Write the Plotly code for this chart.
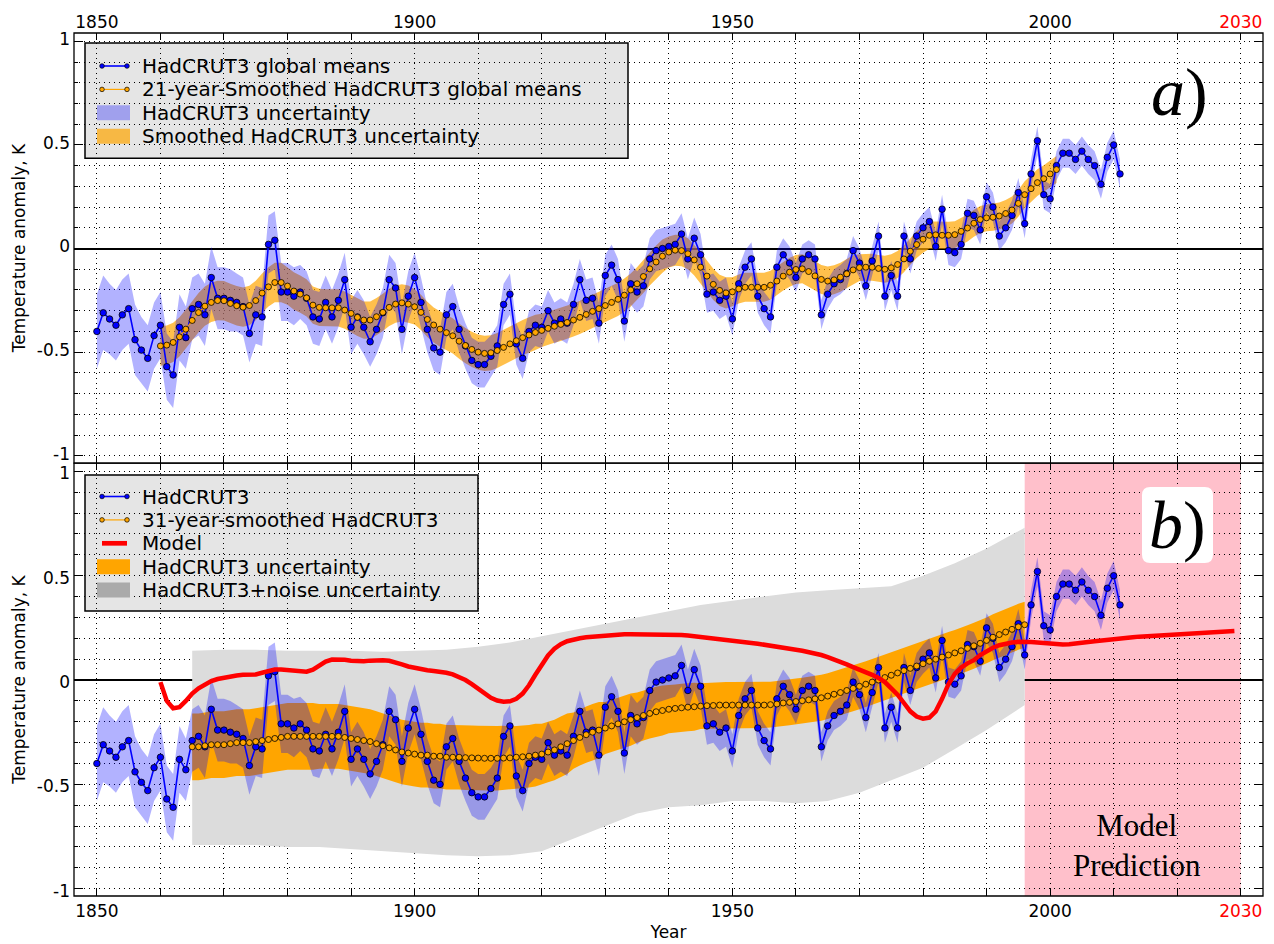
import numpy as np
import plotly.graph_objects as go
from plotly.subplots import make_subplots

# ---- data ----
years = list(range(1850, 2012))
hadcrut = [
    -0.40, -0.31, -0.34, -0.37, -0.32, -0.29, -0.44, -0.49, -0.53, -0.42,
    -0.37, -0.57, -0.61, -0.38, -0.43, -0.29, -0.27, -0.32, -0.14, -0.24,
    -0.24, -0.25, -0.26, -0.28, -0.41, -0.32, -0.33, 0.02, 0.04, -0.21,
    -0.21, -0.23, -0.21, -0.24, -0.33, -0.34, -0.26, -0.33, -0.25, -0.15,
    -0.38, -0.33, -0.38, -0.45, -0.39, -0.31, -0.15, -0.19, -0.39, -0.23,
    -0.14, -0.26, -0.39, -0.48, -0.50, -0.32, -0.28, -0.39, -0.47, -0.54,
    -0.56, -0.56, -0.52, -0.47, -0.27, -0.22, -0.46, -0.53, -0.40, -0.37,
    -0.38, -0.30, -0.36, -0.34, -0.36, -0.27, -0.15, -0.25, -0.24, -0.36,
    -0.13, -0.08, -0.15, -0.35, -0.17, -0.21, -0.18, -0.05, -0.01, 0.00,
    0.01, 0.02, 0.07, -0.05, 0.05, -0.03, -0.22, -0.21, -0.25, -0.23,
    -0.34, -0.17, -0.09, -0.05, -0.23, -0.29, -0.33, -0.09, -0.03, -0.07,
    -0.14, -0.05, -0.03, -0.05, -0.32, -0.22, -0.17, -0.15, -0.12, -0.01,
    -0.07, -0.18, -0.06, 0.06, -0.23, -0.13, -0.23, 0.06, -0.05, 0.06,
    0.10, 0.13, 0.01, 0.19, -0.01, -0.02, 0.02, 0.17, 0.16, 0.09,
    0.25, 0.20, 0.06, 0.10, 0.16, 0.27, 0.12, 0.36, 0.52, 0.26,
    0.24, 0.40, 0.46, 0.46, 0.43, 0.47, 0.43, 0.40, 0.31, 0.44,
    0.50, 0.36,
]
hadcrut_err = [
    0.18, 0.18, 0.17, 0.17, 0.17, 0.17, 0.17, 0.16, 0.16, 0.16,
    0.16, 0.16, 0.16, 0.16, 0.15, 0.15, 0.15, 0.15, 0.15, 0.15,
    0.15, 0.15, 0.14, 0.14, 0.14, 0.14, 0.14, 0.14, 0.14, 0.14,
    0.14, 0.14, 0.13, 0.13, 0.13, 0.13, 0.13, 0.13, 0.13, 0.13,
    0.13, 0.13, 0.13, 0.12, 0.12, 0.12, 0.12, 0.12, 0.12, 0.12,
    0.12, 0.12, 0.11, 0.11, 0.11, 0.11, 0.11, 0.11, 0.11, 0.11,
    0.11, 0.11, 0.10, 0.10, 0.10, 0.10, 0.10, 0.10, 0.10, 0.10,
    0.10, 0.10, 0.10, 0.10, 0.10, 0.10, 0.10, 0.10, 0.10, 0.10,
    0.10, 0.10, 0.10, 0.10, 0.10, 0.10, 0.10, 0.10, 0.10, 0.10,
    0.10, 0.10, 0.10, 0.10, 0.10, 0.10, 0.09, 0.09, 0.09, 0.09,
    0.08, 0.08, 0.08, 0.08, 0.08, 0.08, 0.08, 0.08, 0.08, 0.08,
    0.07, 0.07, 0.07, 0.07, 0.07, 0.07, 0.07, 0.07, 0.07, 0.07,
    0.07, 0.07, 0.07, 0.07, 0.07, 0.07, 0.07, 0.07, 0.07, 0.07,
    0.07, 0.07, 0.07, 0.07, 0.07, 0.07, 0.07, 0.07, 0.07, 0.07,
    0.07, 0.07, 0.07, 0.07, 0.07, 0.07, 0.07, 0.07, 0.07, 0.07,
    0.07, 0.07, 0.07, 0.07, 0.07, 0.07, 0.07, 0.07, 0.07, 0.07,
    0.07, 0.07,
]

smooth21_years = list(range(1860, 2002))
smooth21 = [
    -0.470, -0.466, -0.453, -0.426, -0.389, -0.347, -0.309, -0.278, -0.260, -0.251,
    -0.252, -0.265, -0.276, -0.283, -0.275, -0.251, -0.215, -0.185, -0.164, -0.164,
    -0.181, -0.205, -0.220, -0.238, -0.273, -0.284, -0.286, -0.286, -0.286, -0.297,
    -0.313, -0.332, -0.345, -0.345, -0.329, -0.308, -0.284, -0.268, -0.262, -0.268,
    -0.281, -0.308, -0.342, -0.369, -0.389, -0.406, -0.421, -0.447, -0.468, -0.487,
    -0.500, -0.506, -0.503, -0.492, -0.477, -0.460, -0.445, -0.430, -0.417, -0.405,
    -0.395, -0.385, -0.375, -0.366, -0.357, -0.345, -0.332, -0.318, -0.303, -0.290,
    -0.275, -0.260, -0.245, -0.225, -0.200, -0.170, -0.135, -0.098, -0.065, -0.037,
    -0.017, -0.008, -0.010, -0.025, -0.055, -0.090, -0.133, -0.173, -0.202, -0.214,
    -0.209, -0.195, -0.187, -0.187, -0.187, -0.187, -0.177, -0.157, -0.133, -0.114,
    -0.101, -0.098, -0.111, -0.132, -0.149, -0.157, -0.151, -0.138, -0.122, -0.103,
    -0.092, -0.090, -0.090, -0.096, -0.100, -0.093, -0.077, -0.050, -0.013, 0.019,
    0.045, 0.064, 0.066, 0.064, 0.064, 0.067, 0.083, 0.099, 0.122, 0.140,
    0.148, 0.151, 0.157, 0.169, 0.186, 0.218, 0.260, 0.289, 0.318, 0.337,
    0.360, 0.381,
]
smooth21_err = [
    0.095, 0.095, 0.095, 0.095, 0.095, 0.095, 0.095, 0.095, 0.095, 0.095,
    0.095, 0.095, 0.095, 0.095, 0.095, 0.095, 0.095, 0.095, 0.095, 0.095,
    0.09, 0.09, 0.09, 0.09, 0.09, 0.09, 0.09, 0.09, 0.09, 0.09,
    0.09, 0.09, 0.09, 0.09, 0.09, 0.09, 0.09, 0.09, 0.09, 0.09,
    0.085, 0.085, 0.085, 0.085, 0.085, 0.085, 0.085, 0.085, 0.085, 0.085,
    0.085, 0.085, 0.085, 0.085, 0.085, 0.085, 0.085, 0.085, 0.085, 0.085,
    0.08, 0.08, 0.08, 0.08, 0.08, 0.08, 0.08, 0.08, 0.08, 0.08,
    0.08, 0.08, 0.08, 0.08, 0.08, 0.08, 0.08, 0.08, 0.08, 0.08,
    0.075, 0.075, 0.075, 0.075, 0.075, 0.075, 0.075, 0.075, 0.075, 0.075,
    0.07, 0.07, 0.07, 0.07, 0.07, 0.07, 0.07, 0.07, 0.07, 0.07,
    0.07, 0.07, 0.07, 0.07, 0.07, 0.07, 0.07, 0.07, 0.07, 0.07,
    0.065, 0.065, 0.065, 0.065, 0.065, 0.065, 0.065, 0.065, 0.065, 0.065,
    0.065, 0.065, 0.065, 0.065, 0.065, 0.065, 0.065, 0.065, 0.065, 0.065,
    0.065, 0.065, 0.065, 0.065, 0.065, 0.065, 0.065, 0.065, 0.065, 0.065,
    0.065, 0.065,
]

smooth31_years = list(range(1865, 1997))
smooth31 = [
    -0.320, -0.320, -0.315, -0.310, -0.310, -0.310, -0.305, -0.300, -0.300, -0.300,
    -0.295, -0.290, -0.285, -0.280, -0.275, -0.270, -0.270, -0.270, -0.270, -0.270,
    -0.270, -0.270, -0.270, -0.270, -0.275, -0.280, -0.285, -0.290, -0.295, -0.305,
    -0.315, -0.325, -0.335, -0.345, -0.350, -0.355, -0.360, -0.360, -0.365, -0.365,
    -0.370, -0.370, -0.370, -0.372, -0.373, -0.374, -0.375, -0.375, -0.375, -0.374,
    -0.373, -0.370, -0.368, -0.365, -0.360, -0.355, -0.345, -0.335, -0.320, -0.305,
    -0.290, -0.275, -0.262, -0.250, -0.240, -0.230, -0.220, -0.210, -0.200, -0.190,
    -0.180, -0.170, -0.160, -0.152, -0.146, -0.140, -0.136, -0.133, -0.130, -0.128,
    -0.125, -0.123, -0.122, -0.120, -0.120, -0.120, -0.120, -0.120, -0.120, -0.120,
    -0.120, -0.118, -0.115, -0.110, -0.107, -0.103, -0.099, -0.095, -0.090, -0.085,
    -0.077, -0.068, -0.060, -0.050, -0.040, -0.030, -0.020, -0.010, 0.000, 0.012,
    0.023, 0.034, 0.045, 0.056, 0.067, 0.078, 0.090, 0.100, 0.110, 0.120,
    0.130, 0.140, 0.152, 0.164, 0.176, 0.190, 0.205, 0.218, 0.230, 0.243,
    0.255, 0.265,
]
smooth31_err = [
    0.16, 0.16, 0.16, 0.16, 0.16, 0.16, 0.16, 0.16, 0.16, 0.16,
    0.16, 0.16, 0.16, 0.16, 0.16, 0.16, 0.16, 0.16, 0.16, 0.16,
    0.155, 0.155, 0.155, 0.155, 0.155, 0.155, 0.155, 0.155, 0.155, 0.155,
    0.155, 0.155, 0.155, 0.155, 0.155, 0.155, 0.155, 0.155, 0.155, 0.155,
    0.155, 0.155, 0.155, 0.155, 0.155, 0.155, 0.155, 0.155, 0.155, 0.155,
    0.15, 0.15, 0.15, 0.15, 0.15, 0.145, 0.145, 0.145, 0.145, 0.145,
    0.135, 0.135, 0.135, 0.135, 0.135, 0.125, 0.125, 0.125, 0.125, 0.125,
    0.12, 0.12, 0.12, 0.12, 0.12, 0.115, 0.115, 0.115, 0.115, 0.115,
    0.11, 0.11, 0.11, 0.11, 0.11, 0.11, 0.11, 0.11, 0.11, 0.11,
    0.11, 0.11, 0.11, 0.11, 0.11, 0.11, 0.11, 0.11, 0.11, 0.11,
    0.11, 0.11, 0.11, 0.11, 0.11, 0.11, 0.11, 0.11, 0.11, 0.11,
    0.11, 0.11, 0.11, 0.11, 0.11, 0.11, 0.11, 0.11, 0.11, 0.11,
    0.11, 0.11, 0.11, 0.11, 0.11, 0.11, 0.11, 0.11, 0.11, 0.11,
    0.11, 0.11,
]

noise_years = [1865, 1870, 1875, 1880, 1885, 1890, 1895, 1900, 1905, 1910,
               1915, 1920, 1925, 1930, 1935, 1940, 1945, 1950, 1955, 1960,
               1965, 1970, 1975, 1980, 1985, 1990, 1995, 1996]
noise_upper = [0.14, 0.145, 0.145, 0.14, 0.14, 0.14, 0.135, 0.14, 0.145, 0.16,
               0.18, 0.21, 0.24, 0.27, 0.30, 0.33, 0.36, 0.38, 0.40, 0.42,
               0.43, 0.44, 0.45, 0.50, 0.56, 0.63, 0.71, 0.73]
noise_lower = [-0.79, -0.79, -0.79, -0.80, -0.80, -0.81, -0.82, -0.83, -0.84, -0.845,
               -0.84, -0.82, -0.76, -0.70, -0.64, -0.61, -0.60, -0.58, -0.58, -0.59,
               -0.58, -0.54, -0.48, -0.42, -0.33, -0.24, -0.14, -0.12]

model_years = list(range(1860, 2030))
model = [
    -0.010, -0.100, -0.135, -0.130, -0.100, -0.065, -0.040, -0.020, -0.005, 0.005,
    0.012, 0.018, 0.022, 0.025, 0.025, 0.027, 0.035, 0.045, 0.050, 0.050,
    0.048, 0.045, 0.040, 0.040, 0.050, 0.070, 0.088, 0.098, 0.100, 0.097,
    0.093, 0.090, 0.090, 0.093, 0.095, 0.095, 0.092, 0.085, 0.075, 0.065,
    0.058, 0.052, 0.047, 0.043, 0.040, 0.035, 0.027, 0.015, 0.000, -0.020,
    -0.042, -0.065, -0.085, -0.098, -0.104, -0.102, -0.090, -0.065, -0.025, 0.025,
    0.075, 0.118, 0.150, 0.172, 0.186, 0.195, 0.200, 0.205, 0.208, 0.211,
    0.214, 0.216, 0.218, 0.219, 0.220, 0.220, 0.221, 0.221, 0.220, 0.219,
    0.220, 0.218, 0.216, 0.213, 0.210, 0.207, 0.204, 0.200, 0.197, 0.194,
    0.190, 0.186, 0.182, 0.178, 0.174, 0.170, 0.165, 0.160, 0.155, 0.150,
    0.145, 0.140, 0.135, 0.128, 0.120, 0.110, 0.100, 0.090, 0.075, 0.062,
    0.050, 0.040, 0.025, 0.010, -0.010, -0.040, -0.070, -0.110, -0.150, -0.175,
    -0.185, -0.180, -0.150, -0.090, -0.020, 0.030, 0.060, 0.080, 0.095, 0.120,
    0.140, 0.155, 0.167, 0.175, 0.180, 0.183, 0.184, 0.182, 0.180, 0.177,
    0.174, 0.171, 0.170, 0.171, 0.173, 0.177, 0.182, 0.186, 0.190, 0.194,
    0.197, 0.200, 0.202, 0.205, 0.208, 0.210, 0.212, 0.213, 0.214, 0.215,
    0.217, 0.219, 0.222, 0.225, 0.228, 0.230, 0.232, 0.233, 0.234, 0.235,
]

x_ticks = list(range(1850, 2031, 10))
x_labels = {1850: "1850", 1900: "1900", 1950: "1950", 2000: "2000",
            2030: "<span style='color:red'>2030</span>"}
y_ticks = [-1, -0.5, 0, 0.5, 1]
y_labels = ["-1", "-0.5", "0", "0.5", "1"]

legend_a = ["HadCRUT3 global means", "21-year-Smoothed HadCRUT3 global means",
            "HadCRUT3 uncertainty", "Smoothed HadCRUT3 uncertainty"]
legend_b = ["HadCRUT3", "31-year-smoothed HadCRUT3", "Model",
            "HadCRUT3 uncertainty", "HadCRUT3+noise uncertainty"]

# ---- geometry: target positions in page pixels; the page body adds an 8px margin ----
BODY = 8
W, H = 1274 - BODY, 944 - BODY
PL, PR, PT, PB = 74, 1263, 33, 896          # plot area edges on the page
ML, MT = PL - BODY, PT - BODY
MR, MB = W - (PR - BODY), H - (PB - BODY)
X_RANGE = [1846.4, 2033.5]
Y_RANGE = [-1.035, 1.04]
SPLIT = 0.5017
split_px = PT + (PB - PT) * (1 - SPLIT)


def px2x(px):
    return X_RANGE[0] + (px - PL) / (PR - PL) * (X_RANGE[1] - X_RANGE[0])


def px2y(py, top):
    y0, y1 = (PT, split_px) if top else (split_px, PB)
    return Y_RANGE[1] - (py - y0) / (y1 - y0) * (Y_RANGE[1] - Y_RANGE[0])


def band(xs, centre, err):
    lo = [c - e for c, e in zip(centre, err)]
    hi = [c + e for c, e in zip(centre, err)]
    return list(xs) + list(xs)[::-1], hi + lo[::-1]


fig = make_subplots(rows=2, cols=1, vertical_spacing=0)

BLUE_BAND = "rgba(0,0,255,0.3)"
ORANGE_A = "rgba(255,165,0,0.7)"
FONT = "DejaVu Sans"

# ---------------- panel a ----------------
bx, by = band(smooth21_years, smooth21, smooth21_err)
fig.add_trace(go.Scatter(x=bx, y=by, fill="toself", fillcolor=ORANGE_A,
                         line=dict(width=0), mode="lines", hoverinfo="skip",
                         name=legend_a[3]), row=1, col=1)
bx, by = band(years, hadcrut, hadcrut_err)
fig.add_trace(go.Scatter(x=bx, y=by, fill="toself", fillcolor=BLUE_BAND,
                         line=dict(width=0), mode="lines", hoverinfo="skip",
                         name=legend_a[2]), row=1, col=1)
fig.add_trace(go.Scatter(x=years, y=hadcrut, mode="lines+markers",
                         line=dict(color="blue", width=1.6),
                         marker=dict(size=6.5, color="blue", line=dict(color="black", width=0.8)),
                         name=legend_a[0]), row=1, col=1)
fig.add_trace(go.Scatter(x=smooth21_years, y=smooth21, mode="lines+markers",
                         line=dict(color="orange", width=1.2),
                         marker=dict(size=6, color="orange", line=dict(color="black", width=0.8)),
                         name=legend_a[1]), row=1, col=1)

# ---------------- panel b ----------------
gx = noise_years + noise_years[::-1]
gy = noise_upper + noise_lower[::-1]
fig.add_trace(go.Scatter(x=gx, y=gy, fill="toself", fillcolor="#dcdcdc",
                         line=dict(width=0), mode="lines", hoverinfo="skip",
                         name=legend_b[4]), row=2, col=1)
bx, by = band(smooth31_years, smooth31, smooth31_err)
fig.add_trace(go.Scatter(x=bx, y=by, fill="toself", fillcolor="#ffa500",
                         line=dict(width=0), mode="lines", hoverinfo="skip",
                         name=legend_b[3]), row=2, col=1)
bx, by = band(years, hadcrut, hadcrut_err)
fig.add_trace(go.Scatter(x=bx, y=by, fill="toself", fillcolor=BLUE_BAND,
                         line=dict(width=0), mode="lines", hoverinfo="skip",
                         name="HadCRUT3 uncertainty (annual)"), row=2, col=1)
fig.add_trace(go.Scatter(x=years, y=hadcrut, mode="lines+markers",
                         line=dict(color="blue", width=1.6),
                         marker=dict(size=6.5, color="blue", line=dict(color="black", width=0.8)),
                         name=legend_b[0]), row=2, col=1)
fig.add_trace(go.Scatter(x=smooth31_years, y=smooth31, mode="lines+markers",
                         line=dict(color="orange", width=1.2),
                         marker=dict(size=6, color="orange", line=dict(color="black", width=0.8)),
                         name=legend_b[1]), row=2, col=1)
fig.add_trace(go.Scatter(x=model_years, y=model, mode="lines",
                         line=dict(color="red", width=4.5), name=legend_b[2]), row=2, col=1)
fig.update_traces(showlegend=False)

# ---------------- axes ----------------
xcommon = dict(range=X_RANGE, tickmode="array", tickvals=x_ticks,
               ticktext=[x_labels.get(v, "") for v in x_ticks],
               ticks="inside", ticklen=7, tickcolor="black", tickwidth=1,
               showline=False, mirror="ticks",
               showgrid=True, gridcolor="black", gridwidth=1, griddash="1px,4px",
               zeroline=False, automargin=False,
               tickfont=dict(size=17, family=FONT, color="black"))
fig.update_xaxes(**xcommon)
fig.update_xaxes(side="top", ticklabelstandoff=1, row=1, col=1)
fig.update_xaxes(ticklabelstandoff=3,
                 title=dict(text="Year", font=dict(size=17, family=FONT, color="black"),
                            standoff=6), row=2, col=1)

minor_y = [round(v, 1) for v in np.arange(-1.0, 1.05, 0.1)]
ycommon = dict(range=Y_RANGE, tickmode="array", tickvals=y_ticks, ticktext=y_labels,
               ticks="inside", ticklen=9, tickcolor="black", tickwidth=1,
               minor=dict(tickmode="array", tickvals=minor_y, ticks="inside", ticklen=4,
                          tickcolor="black", showgrid=True, gridcolor="black",
                          griddash="1px,4px", gridwidth=1),
               showline=False, mirror="ticks",
               showgrid=True, gridcolor="black", gridwidth=1, griddash="1px,4px",
               zeroline=True, zerolinecolor="black", zerolinewidth=1.5,
               automargin=False, ticklabelstandoff=3,
               tickfont=dict(size=17, family=FONT, color="black"),
               title=dict(text="Temperature anomaly, K", standoff=6,
                          font=dict(size=17, family=FONT, color="black")))
fig.update_yaxes(**ycommon)
fig.update_yaxes(domain=[SPLIT, 1.0], ticklabelshift=-2, row=1, col=1)
fig.update_yaxes(domain=[0.0, SPLIT], ticklabelshift=2, row=2, col=1)

# model prediction zone
fig.add_shape(type="rect", xref="x2", yref="y2 domain", x0=1996, x1=2030, y0=0, y1=1,
              fillcolor="pink", line=dict(width=0), layer="below")

# panel frames (one shared edge between the panels)
for xr, yr in (("x domain", "y domain"), ("x2 domain", "y2 domain")):
    fig.add_shape(type="rect", xref=xr, yref=yr, x0=0, x1=1, y0=0, y1=1,
                  line=dict(color="black", width=1.3), fillcolor="rgba(0,0,0,0)",
                  layer="above")


# ---------------- hand-drawn legends (under the grid, like the original) ----------------
LEG_FONT = 20


def legend_box(xr, yr, top, left_px, right_px, top_px, bottom_px):
    fig.add_shape(type="rect", xref=xr, yref=yr,
                  x0=px2x(left_px), x1=px2x(right_px),
                  y0=px2y(bottom_px, top), y1=px2y(top_px, top),
                  fillcolor="#e5e5e5", line=dict(color="black", width=1.5), layer="below")


def legend_text(xr, yr, top, py, text):
    fig.add_annotation(x=px2x(141), y=px2y(py, top), xref=xr, yref=yr, text=text,
                       showarrow=False, xanchor="left", yanchor="middle", borderpad=0,
                       font=dict(size=LEG_FONT, family=FONT, color="black"))


def legend_line(xr, yr, top, py, color, width, markers):
    yy = px2y(py, top)
    fig.add_shape(type="line", xref=xr, yref=yr, x0=px2x(102), x1=px2x(127), y0=yy, y1=yy,
                  line=dict(color=color, width=width), layer="above")
    if markers:
        for mx in (102, 127):
            fig.add_shape(type="circle", xref=xr, yref=yr, xsizemode="pixel", ysizemode="pixel",
                          xanchor=px2x(mx), yanchor=yy, x0=-2.3, x1=2.3, y0=-2.3, y1=2.3,
                          fillcolor=color, line=dict(color="black", width=0.7), layer="above")


def legend_patch(xr, yr, top, py, color):
    fig.add_shape(type="rect", xref=xr, yref=yr, x0=px2x(97), x1=px2x(130),
                  y0=px2y(py + 7.5, top), y1=px2y(py - 7.5, top),
                  fillcolor=color, line=dict(width=0), layer="above")


STEP = 23.4
rows_a = [66 + STEP * i for i in range(4)]
legend_box("x", "y", True, 85, 628, 43, rows_a[-1] + 22)
for py, text in zip(rows_a, legend_a):
    legend_text("x", "y", True, py, text)
legend_line("x", "y", True, rows_a[0], "blue", 1.6, True)
legend_line("x", "y", True, rows_a[1], "orange", 1.2, True)
legend_patch("x", "y", True, rows_a[2], BLUE_BAND)
legend_patch("x", "y", True, rows_a[3], ORANGE_A)

rows_b = [496.5 + STEP * i for i in range(5)]
legend_box("x2", "y2", False, 85, 478, 475, rows_b[-1] + 21)
for py, text in zip(rows_b, legend_b):
    legend_text("x2", "y2", False, py, text)
legend_line("x2", "y2", False, rows_b[0], "blue", 1.6, True)
legend_line("x2", "y2", False, rows_b[1], "orange", 1.2, True)
legend_line("x2", "y2", False, rows_b[2], "red", 4.7, False)
legend_patch("x2", "y2", False, rows_b[3], "#ffa500")
legend_patch("x2", "y2", False, rows_b[4], "#aaaaaa")

# rounded white box behind "b)"
x0, x1 = px2x(1142), px2x(1213)
y0, y1 = px2y(563, False), px2y(487, False)
rx, ry = 1.3, 0.04
path = (f"M {x0+rx},{y0} L {x1-rx},{y0} Q {x1},{y0} {x1},{y0+ry} L {x1},{y1-ry} "
        f"Q {x1},{y1} {x1-rx},{y1} L {x0+rx},{y1} Q {x0},{y1} {x0},{y1-ry} "
        f"L {x0},{y0+ry} Q {x0},{y0} {x0+rx},{y0} Z")
fig.add_shape(type="path", path=path, xref="x2", yref="y2",
              fillcolor="white", line=dict(width=0), layer="above")

SERIF = "Liberation Serif"
fig.add_annotation(x=px2x(1179), y=px2y(92, True), xref="x", yref="y", text="<i>a</i>)",
                   showarrow=False, font=dict(family=SERIF, size=68, color="black"))
fig.add_annotation(x=px2x(1177), y=px2y(525, False), xref="x2", yref="y2", text="<i>b</i>)",
                   showarrow=False, font=dict(family=SERIF, size=68, color="black"))
fig.add_annotation(x=px2x(1137), y=px2y(845, False), xref="x2", yref="y2",
                   text="Model<br>Prediction", showarrow=False,
                   font=dict(family=SERIF, size=31, color="black"))

fig.update_layout(
    width=W, height=H,
    margin=dict(l=ML, r=MR, t=MT, b=MB),
    plot_bgcolor="white", paper_bgcolor="white",
    font=dict(family=FONT, color="black"),
    showlegend=False,
)

fig.write_html("out.html")
